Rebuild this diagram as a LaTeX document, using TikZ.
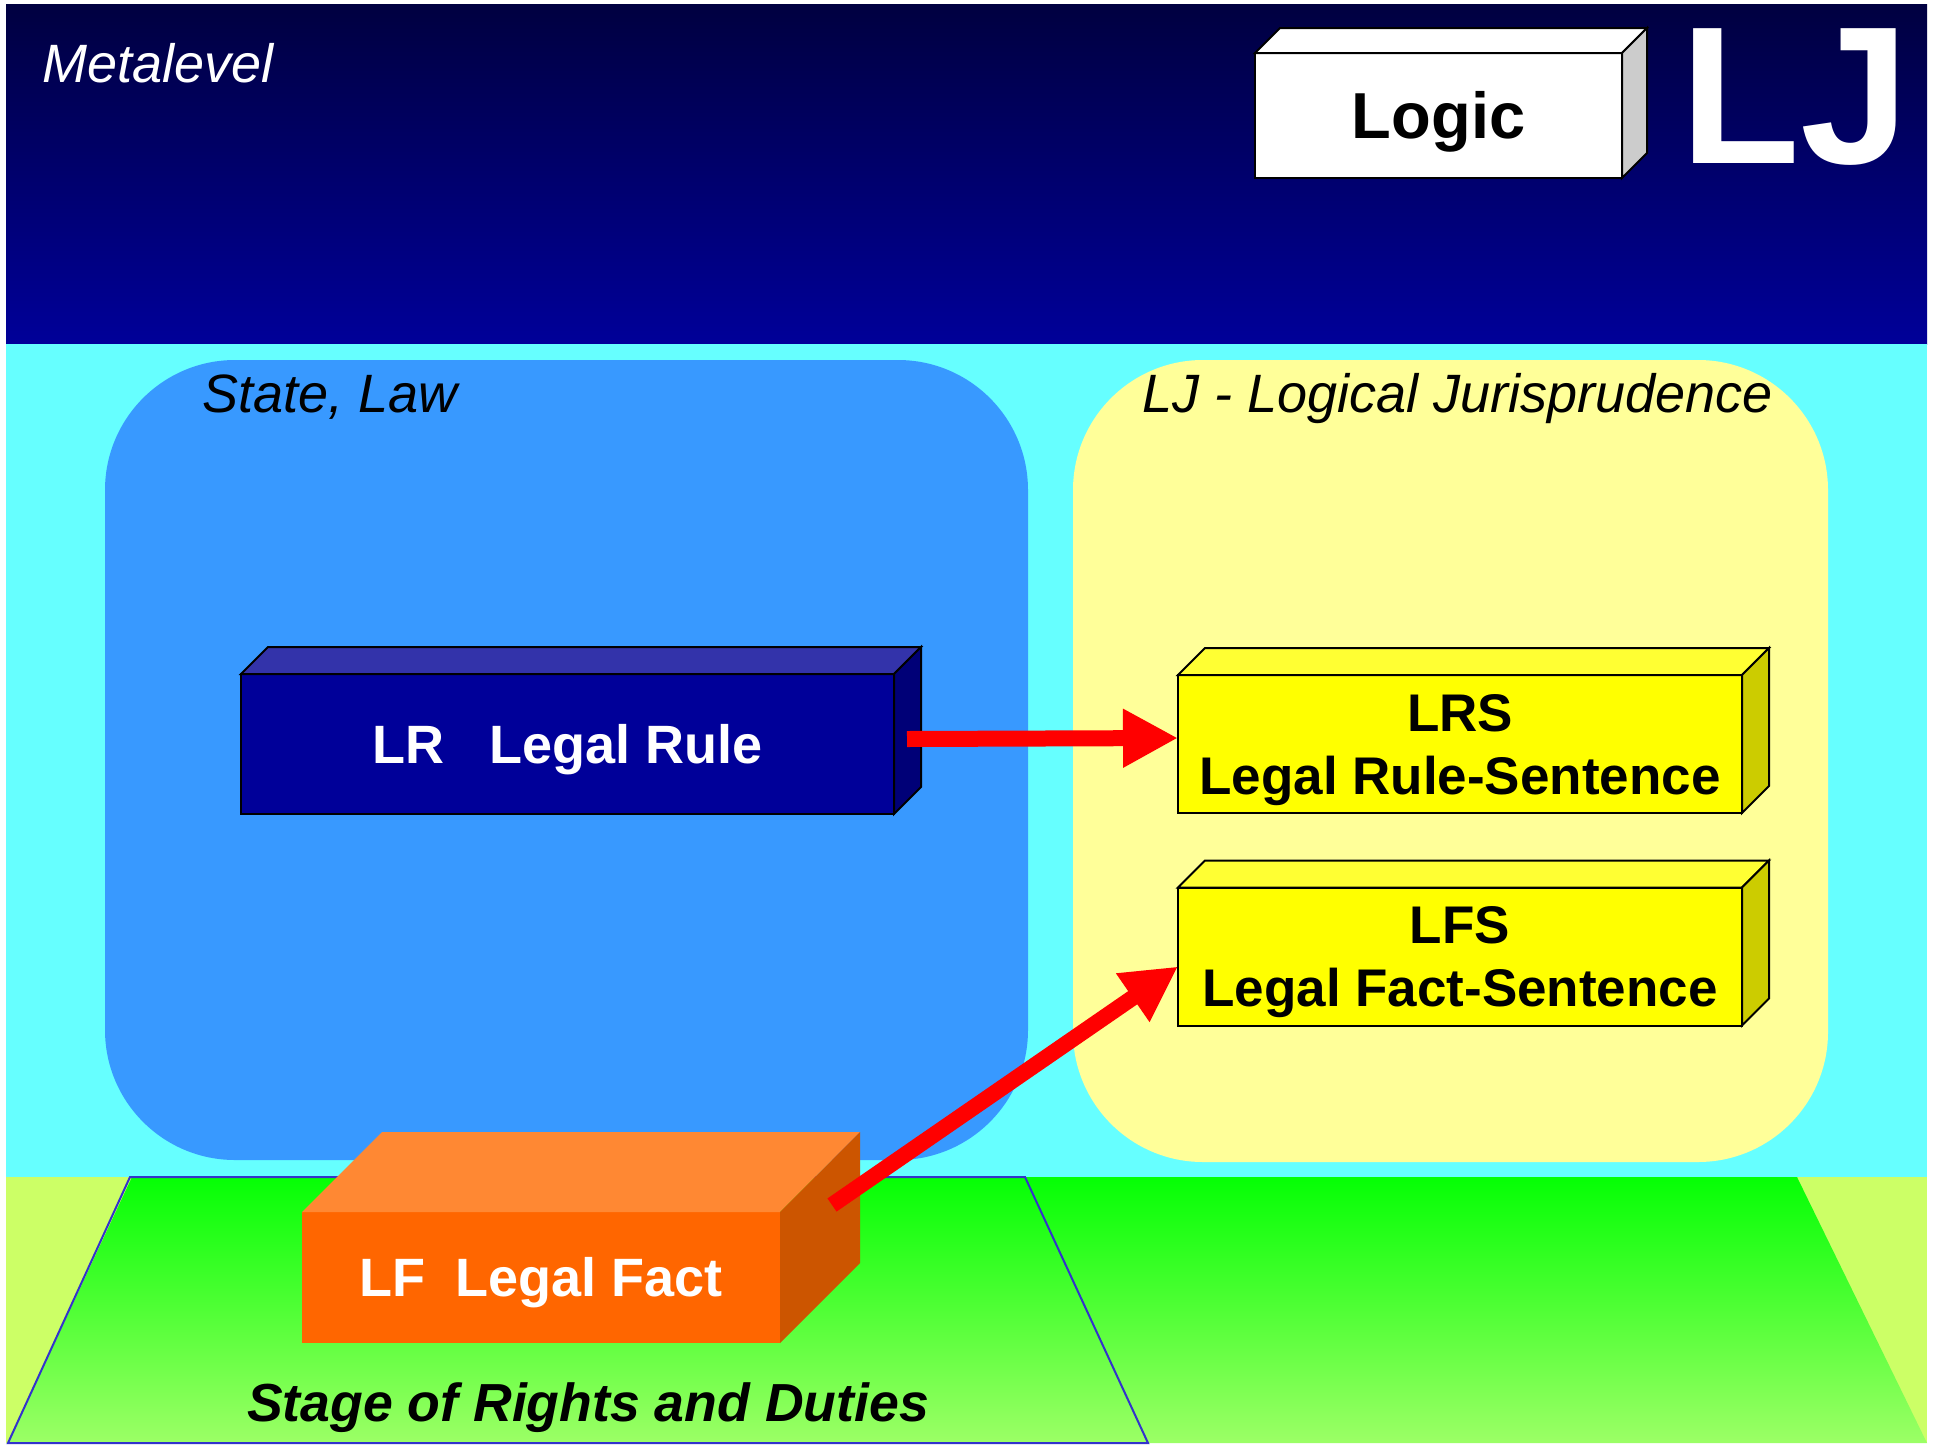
\documentclass[tikz,border=0pt]{standalone}
\usepackage{fontspec}
\setmainfont{Liberation Sans}
\usetikzlibrary{arrows.meta}

\definecolor{metatop}{RGB}{0,0,64}
\definecolor{metabot}{RGB}{0,0,153}
\definecolor{skycol}{RGB}{102,255,255}
\definecolor{statecol}{RGB}{56,153,255}
\definecolor{ljcol}{RGB}{255,255,153}
\definecolor{grasscol}{RGB}{204,255,102}
\definecolor{stagetop}{RGB}{5,255,5}
\definecolor{stagemid}{RGB}{100,255,68}
\definecolor{stagebot}{RGB}{156,255,102}
\definecolor{stageline}{RGB}{51,51,204}
\definecolor{rulefront}{RGB}{0,0,153}
\definecolor{ruletop}{RGB}{51,51,170}
\definecolor{ruleside}{RGB}{0,0,119}
\definecolor{sentfront}{RGB}{255,255,0}
\definecolor{senttop}{RGB}{255,255,51}
\definecolor{sentside}{RGB}{204,204,0}
\definecolor{logicside}{RGB}{204,204,204}
\definecolor{factfront}{RGB}{255,102,0}
\definecolor{facttop}{RGB}{255,136,51}
\definecolor{factside}{RGB}{204,85,0}

\tikzset{
  boxface/.style={draw=black, line width=1pt, inner sep=0pt, outer sep=0pt},
  capline/.style={text height=19.4pt, text depth=0pt},
  tagtext/.style={anchor=base west, inner sep=0pt, font=\fontsize{27}{32}\selectfont\itshape},
  boxtext/.style={font=\fontsize{27}{32}\selectfont\bfseries},
  sentbox/.style={boxface, fill=sentfront, minimum width=282pt, minimum height=69pt, align=center, text depth=0pt, font=\fontsize{26.5}{31.5}\selectfont\bfseries},
  redarrow/.style={draw=red, line width=8pt, -{Triangle[length=27.5pt,width=27.5pt]}},
}

\begin{document}
\begin{tikzpicture}[x=0.5pt,y=-0.5pt]
\useasboundingbox[fill=white] (0,0) rectangle (1933,1446);

% the three levels
\shade[top color=metatop, bottom color=metabot] (6,4) rectangle (1927,344);
\fill[skycol] (6,344) rectangle (1927,1177);
\fill[grasscol] (6,1177) rectangle (1927,1443);
\shade[top color=stagetop, middle color=stagemid, bottom color=stagebot] (8,1443) -- (132,1177) -- (1797,1177) -- (1927,1443) -- cycle;
\draw[stageline, line width=1pt] (8,1443) -- (130,1177) -- (1025,1177) -- (1148,1443) -- cycle;

\fill[statecol, rounded corners=65pt] (105,360) rectangle (1028,1160);
\fill[ljcol, rounded corners=65pt] (1073,360) rectangle (1828,1162);

% labels
\node[tagtext, text=white] (meta) at (42,82) {Metalevel};
\node[tagtext] (state) at (202,412) {State, Law};
\node[tagtext] (ljname) at (1142,412) {LJ - Logical Jurisprudence};
\node[anchor=base, inner sep=0pt, text=white, font=\fontsize{98}{98}\selectfont\bfseries] (lj) at (1795,163) {LJ};
\node[anchor=base, inner sep=0pt, font=\fontsize{26.8}{30}\selectfont\bfseries\itshape] (stage) at (588,1421) {Stage of Rights and Duties};

% boxes
\node[boxface, fill=white, minimum width=183.5pt, minimum height=62.5pt, text height=23.3pt, text depth=0pt, font=\fontsize{32.5}{38}\selectfont\bfseries] (logic) at (1438.5,115.5) {Logic};
\node[boxface, boxtext, capline, fill=rulefront, text=white, minimum width=326.5pt, minimum height=70pt] (lr) at (567.5,744) {LR\ \ \ Legal Rule};
\node[sentbox] (lrs) at (1460,744) {LRS\\Legal Rule-Sentence};
\node[sentbox] (lfs) at (1460,956.5) {LFS\\Legal Fact-Sentence};
\node[boxtext, capline, inner sep=0pt, outer sep=0pt, fill=factfront, text=white, minimum width=239pt, minimum height=65.5pt] (lf) at (541,1277.5) {LF\ \ Legal Fact};

\foreach \n/\d/\tc/\sc in {logic/25/white/logicside, lr/27/ruletop/ruleside, lrs/27/senttop/sentside, lfs/27/senttop/sentside}{
  \filldraw[fill=\tc, draw=black, line width=1pt] (\n.north west) -- ++(\d,-\d) -- ([shift={(\d,-\d)}]\n.north east) -- (\n.north east) -- cycle;
  \filldraw[fill=\sc, draw=black, line width=1pt] (\n.north east) -- ++(\d,-\d) -- ([shift={(\d,-\d)}]\n.south east) -- (\n.south east) -- cycle;
}
\fill[facttop] (lf.north west) -- ++(80,-80) -- ([shift={(80,-80)}]lf.north east) -- (lf.north east) -- cycle;
\fill[factside] (lf.north east) -- ++(80,-80) -- ([shift={(80,-80)}]lf.south east) -- (lf.south east) -- cycle;

% arrows
\draw[redarrow] ([shift={(13,-5)}]lr.east) -- ([shift={(0,-6)}]lrs.west);
\draw[redarrow] ([shift={(52,-7)}]lf.north east) -- ([shift={(0,10)}]lfs.west);

\end{tikzpicture}
\end{document}
